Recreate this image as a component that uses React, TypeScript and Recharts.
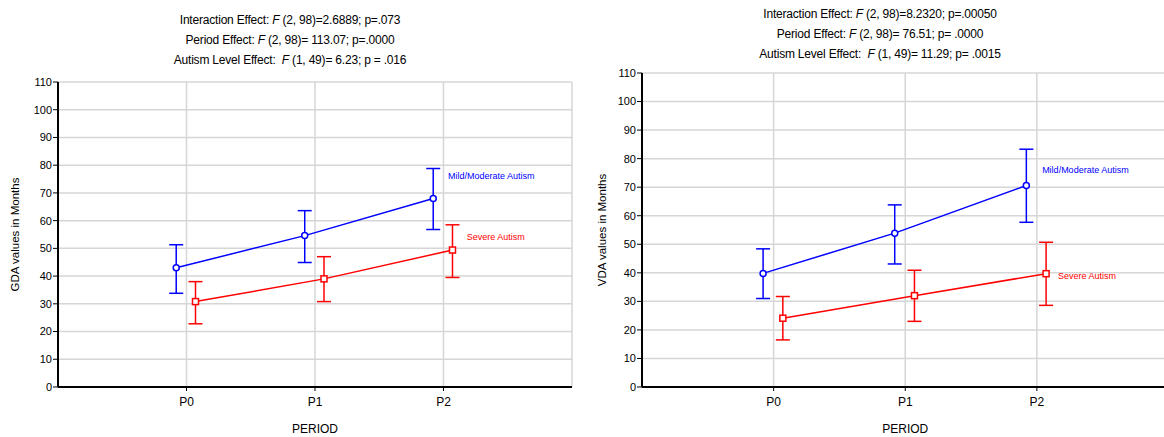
import React from "react";
import { LineChart, Line, XAxis, YAxis, CartesianGrid, ErrorBar, ReferenceDot } from "recharts";

const periods = ["P0", "P1", "P2"];
const periodTicks = [0, 1, 2];
const yTicks = [0, 10, 20, 30, 40, 50, 60, 70, 80, 90, 100, 110];
const frameTicks = [0, 1, 2, 3, 4, 5, 6, 7, 8];

// GDA panel (left)
const gdaMildMean = [43.0, 54.6, 68.0];
const gdaMildLow = [33.8, 44.9, 56.8];
const gdaMildHigh = [51.3, 63.6, 78.8];
const gdaSevereMean = [30.8, 39.0, 49.4];
const gdaSevereLow = [22.8, 30.8, 39.5];
const gdaSevereHigh = [38.0, 47.0, 58.5];

// VDA panel (right)
const vdaMildMean = [39.8, 53.9, 70.6];
const vdaMildLow = [31.0, 43.1, 57.7];
const vdaMildHigh = [48.4, 63.8, 83.3];
const vdaSevereMean = [24.1, 32.0, 39.7];
const vdaSevereLow = [16.5, 23.0, 28.6];
const vdaSevereHigh = [31.7, 40.9, 50.7];

const gdaTitles = [
  { lead: "Interaction Effect: ", stat: " (2, 98)=2.6889; p=.073" },
  { lead: "Period Effect: ", stat: " (2, 98)= 113.07; p=.0000" },
  { lead: "Autism Level Effect:  ", stat: " (1, 49)= 6.23; p = .016" },
];
const vdaTitles = [
  { lead: "Interaction Effect: ", stat: " (2, 98)=8.2320; p=.00050" },
  { lead: "Period Effect: ", stat: " (2, 98)= 76.51; p= .0000" },
  { lead: "Autism Level Effect:  ", stat: " (1, 49)= 11.29; p= .0015" },
];

const BLUE = "#0000ff";
const RED = "#ff0000";

type Row = { x: number; y: number; err: [number, number] };

const buildRows = (mean: number[], low: number[], high: number[], shift: number): Row[] =>
  mean.map((m, i) => ({ x: i + shift, y: m, err: [m - low[i], high[i] - m] }));

const SquareDot = (props: any) => {
  const { cx, cy, index } = props;
  return <rect key={`sq-${index}`} x={cx - 3} y={cy - 3} width={6} height={6} fill="#fff" stroke={RED} strokeWidth={1.5} />;
};

type PanelProps = {
  left: number;
  width: number;
  top: number;
  right: number;
  yWidth: number;
  yLabel: string;
  yLabelOffset: number;
  titles: { lead: string; stat: string }[];
  titleTop: number;
  mild: Row[];
  severe: Row[];
  mildLabel: [number, number];
  severeLabel: [number, number];
  frameRight: boolean;
};

const axisStroke = { stroke: "#000", strokeWidth: 2 };

const Panel: React.FC<PanelProps> = (p) => (
  <div style={{ position: "absolute", left: p.left, top: 0, width: p.width, height: 437 }}>
    <div
      style={{
        position: "absolute",
        left: 0,
        width: "100%",
        top: p.titleTop,
        textAlign: "center",
        fontSize: 12,
        lineHeight: "20px",
        whiteSpace: "pre",
        letterSpacing: -0.2,
        color: "#000",
      }}
    >
      {p.titles.map((t, i) => (
        <div key={i}>
          {t.lead}
          <i>F</i>
          {t.stat}
        </div>
      ))}
    </div>
    <LineChart width={p.width} height={437} margin={{ top: p.top, right: p.right, bottom: 4, left: 0 }}>
      <CartesianGrid stroke="#d6d6d6" strokeWidth={1.5} />
      <XAxis
        dataKey="x"
        type="number"
        domain={[-1, 3]}
        ticks={periodTicks}
        tickFormatter={(v: number) => periods[v]}
        height={46}
        tickSize={4}
        tickMargin={6}
        axisLine={axisStroke}
        tickLine={{ stroke: "#000" }}
        tick={{ fill: "#000", fontSize: 12 }}
        label={{ value: "PERIOD", position: "insideBottom", offset: 0, fill: "#000", fontSize: 12 }}
      />
      <XAxis
        xAxisId="top"
        orientation="top"
        type="number"
        domain={[-1, 3]}
        ticks={periodTicks}
        height={0}
        mirror
        tick={false}
        tickSize={4}
        axisLine={axisStroke}
        tickLine={{ stroke: "#000" }}
      />
      <YAxis
        type="number"
        domain={[0, 110]}
        ticks={yTicks}
        interval={0}
        width={p.yWidth}
        tickSize={5}
        tickMargin={1}
        axisLine={axisStroke}
        tickLine={{ stroke: "#000" }}
        tick={{ fill: "#000", fontSize: 11 }}
        label={{
          value: p.yLabel,
          angle: -90,
          position: "insideLeft",
          offset: p.yLabelOffset,
          fill: "#000",
          fontSize: 11.5,
          style: { textAnchor: "middle" },
        }}
      />
      {p.frameRight && (
        <YAxis
          yAxisId="right"
          orientation="right"
          type="number"
          domain={[0, 8]}
          ticks={frameTicks}
          interval={0}
          width={0}
          mirror
          tick={false}
          tickSize={4}
          axisLine={axisStroke}
          tickLine={{ stroke: "#000" }}
        />
      )}
      <Line
        data={p.mild}
        dataKey="y"
        stroke={BLUE}
        strokeWidth={1.5}
        dot={{ r: 3, fill: "#fff", stroke: BLUE, strokeWidth: 1.5 }}
        isAnimationActive={false}
      >
        <ErrorBar dataKey="err" direction="y" width={7} stroke={BLUE} strokeWidth={1.5} isAnimationActive={false} />
      </Line>
      <Line
        data={p.severe}
        dataKey="y"
        stroke={RED}
        strokeWidth={1.5}
        dot={SquareDot}
        isAnimationActive={false}
      >
        <ErrorBar dataKey="err" direction="y" width={7} stroke={RED} strokeWidth={1.5} isAnimationActive={false} />
      </Line>
      <ReferenceDot
        x={p.mildLabel[0]}
        y={p.mildLabel[1]}
        r={0}
        stroke="none"
        label={{ value: "Mild/Moderate Autism", position: "right", offset: 0, fill: BLUE, fontSize: 9 }}
      />
      <ReferenceDot
        x={p.severeLabel[0]}
        y={p.severeLabel[1]}
        r={0}
        stroke="none"
        label={{ value: "Severe Autism", position: "right", offset: 0, fill: RED, fontSize: 9 }}
      />
    </LineChart>
  </div>
);

export default function App() {
  return (
    <div
      style={{
        position: "absolute",
        left: 0,
        top: 0,
        width: 1164,
        height: 437,
        overflow: "hidden",
        background: "#fff",
        fontFamily: "'Liberation Sans', Arial, sans-serif",
      }}
    >
      <Panel
        left={0}
        width={580}
        top={82}
        right={8}
        yWidth={58}
        yLabel="GDA values in Months"
        yLabelOffset={15}
        titles={gdaTitles}
        titleTop={10}
        mild={buildRows(gdaMildMean, gdaMildLow, gdaMildHigh, -0.08)}
        severe={buildRows(gdaSevereMean, gdaSevereLow, gdaSevereHigh, 0.07)}
        mildLabel={[2.035, 76.3]}
        severeLabel={[2.18, 54.3]}
        frameRight
      />
      <Panel
        left={580}
        width={600}
        top={73}
        right={11.5}
        yWidth={62}
        yLabel="VDA values in Months"
        yLabelOffset={22}
        titles={vdaTitles}
        titleTop={4}
        mild={buildRows(vdaMildMean, vdaMildLow, vdaMildHigh, -0.08)}
        severe={buildRows(vdaSevereMean, vdaSevereLow, vdaSevereHigh, 0.07)}
        mildLabel={[2.04, 76.0]}
        severeLabel={[2.16, 38.9]}
        frameRight={false}
      />
    </div>
  );
}
